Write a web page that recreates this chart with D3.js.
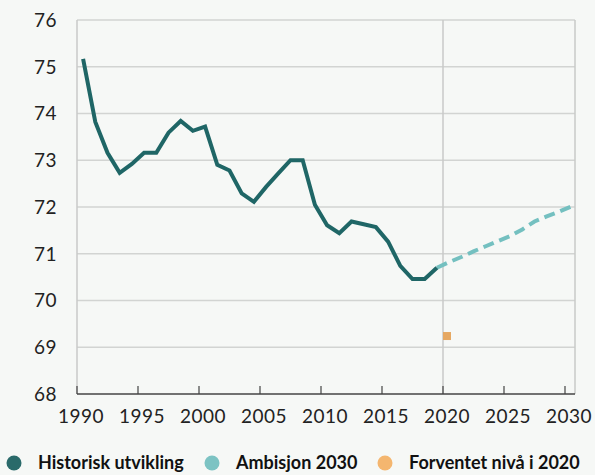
<!DOCTYPE html>
<html>
<head>
<meta charset="utf-8">
<script src="https://cdn.jsdelivr.net/npm/d3@7"></script>
<style>
  html, body { margin: 0; padding: 0; background: #f6f8f6; }
  svg { display: block; }
  .tick-label { font-family: Lato, "Open Sans", sans-serif; font-size: 19px; font-weight: 400; letter-spacing: 0.5px; fill: #222; }
  .legend-label { font-family: Lato, "Open Sans", sans-serif; font-size: 18px; font-weight: 700; fill: #111; }
</style>
</head>
<body>
<svg id="chart" width="595" height="475"></svg>
<script>
// Historic development, 1990–2019
const historicYears = [1990, 1991, 1992, 1993, 1994, 1995, 1996, 1997, 1998, 1999,
  2000, 2001, 2002, 2003, 2004, 2005, 2006, 2007, 2008, 2009,
  2010, 2011, 2012, 2013, 2014, 2015, 2016, 2017, 2018, 2019];
const historicValues = [75.17, 73.82, 73.16, 72.73, 72.92, 73.16, 73.16, 73.59, 73.84, 73.63,
  73.72, 72.90, 72.78, 72.29, 72.11, 72.43, 72.72, 73.00, 73.00, 72.05,
  71.61, 71.44, 71.69, 71.63, 71.57, 71.26, 70.74, 70.46, 70.46, 70.70];

// Ambition path towards 2030
const ambitionYears = [2019, 2020, 2021, 2022, 2023, 2024, 2025, 2026, 2027, 2028, 2029, 2030];
const ambitionValues = [70.70, 70.82, 70.93, 71.05, 71.16, 71.27, 71.38, 71.52, 71.69, 71.80, 71.90, 72.01];

// Expected level in 2020
const expectedYear = 2020;
const expectedValue = 69.24;

const yTicks = [68, 69, 70, 71, 72, 73, 74, 75, 76];
const xTicks = [1990, 1995, 2000, 2005, 2010, 2015, 2020, 2025, 2030];

const legendItems = [
  { label: "Historisk utvikling", color: "#2a6a6a" },
  { label: "Ambisjon 2030", color: "#7cc3c3" },
  { label: "Forventet nivå i 2020", color: "#f4b66f" }
];

const svg = d3.select("#chart");

const x = d3.scaleLinear().domain([1990, 2030]).range([77, 565]);
const xMax = 2030.82;           // plot area extends a little past the last tick
const y = d3.scaleLinear().domain([68, 76]).range([394, 20]);
const mid = 0.5;                // annual values sit at mid-year

const left = x(1990), right = x(xMax);

// horizontal grid
svg.append("g").selectAll("line").data(yTicks.filter(d => d > 68)).join("line")
  .attr("x1", left).attr("x2", right)
  .attr("y1", d => y(d)).attr("y2", d => y(d))
  .attr("stroke", "#d2d4d2").attr("stroke-width", 1.5);

// frame: left and right borders, 2020 marker line
svg.append("g").selectAll("line").data([1990, xMax, 2020]).join("line")
  .attr("x1", d => x(d)).attr("x2", d => x(d))
  .attr("y1", y(76)).attr("y2", y(68))
  .attr("stroke", "#c8cac8").attr("stroke-width", 1.5);

// y labels
svg.append("g").selectAll("text").data(yTicks).join("text")
  .attr("class", "tick-label")
  .attr("x", 57).attr("y", d => y(d))
  .attr("dy", "0.36em")
  .attr("text-anchor", "end")
  .text(d => d);

// x axis
const xAxis = svg.append("g").attr("transform", `translate(0,${y(68)})`);
xAxis.append("line").attr("x1", left).attr("x2", right)
  .attr("stroke", "#444").attr("stroke-width", 1.5);
xAxis.selectAll(".tk").data(xTicks).join("line").attr("class", "tk")
  .attr("x1", d => x(d)).attr("x2", d => x(d))
  .attr("y1", 0).attr("y2", -8)
  .attr("stroke", "#444").attr("stroke-width", 1.2);
xAxis.selectAll("text").data(xTicks).join("text")
  .attr("class", "tick-label")
  .attr("x", d => x(d) + 4).attr("y", 29)
  .attr("text-anchor", "middle")
  .text(d => d);

const line = d3.line().x(d => x(d[0] + mid)).y(d => y(d[1]));

// ambition (dashed)
svg.append("path")
  .datum(ambitionYears.map((yr, i) => [yr, ambitionValues[i]]))
  .attr("d", line)
  .attr("fill", "none")
  .attr("stroke", "#74c0c0")
  .attr("stroke-width", 4)
  .attr("stroke-dasharray", "11,6");

// historic (solid)
svg.append("path")
  .datum(historicYears.map((yr, i) => [yr, historicValues[i]]))
  .attr("d", line)
  .attr("fill", "none")
  .attr("stroke", "#1f6666")
  .attr("stroke-width", 4)
  .attr("stroke-linejoin", "miter");

// expected level marker
svg.append("rect")
  .attr("x", x(expectedYear))
  .attr("y", y(expectedValue) - 4)
  .attr("width", 8).attr("height", 8)
  .attr("fill", "#e6a862");

// legend
const legendX = [14, 212, 385];
const lg = svg.append("g").selectAll("g").data(legendItems).join("g")
  .attr("transform", (d, i) => `translate(${legendX[i]},463)`);
lg.append("circle").attr("r", 7.5).attr("fill", d => d.color);
lg.append("text").attr("class", "legend-label")
  .attr("x", 24).attr("dy", "0.36em")
  .text(d => d.label);
</script>
</body>
</html>
